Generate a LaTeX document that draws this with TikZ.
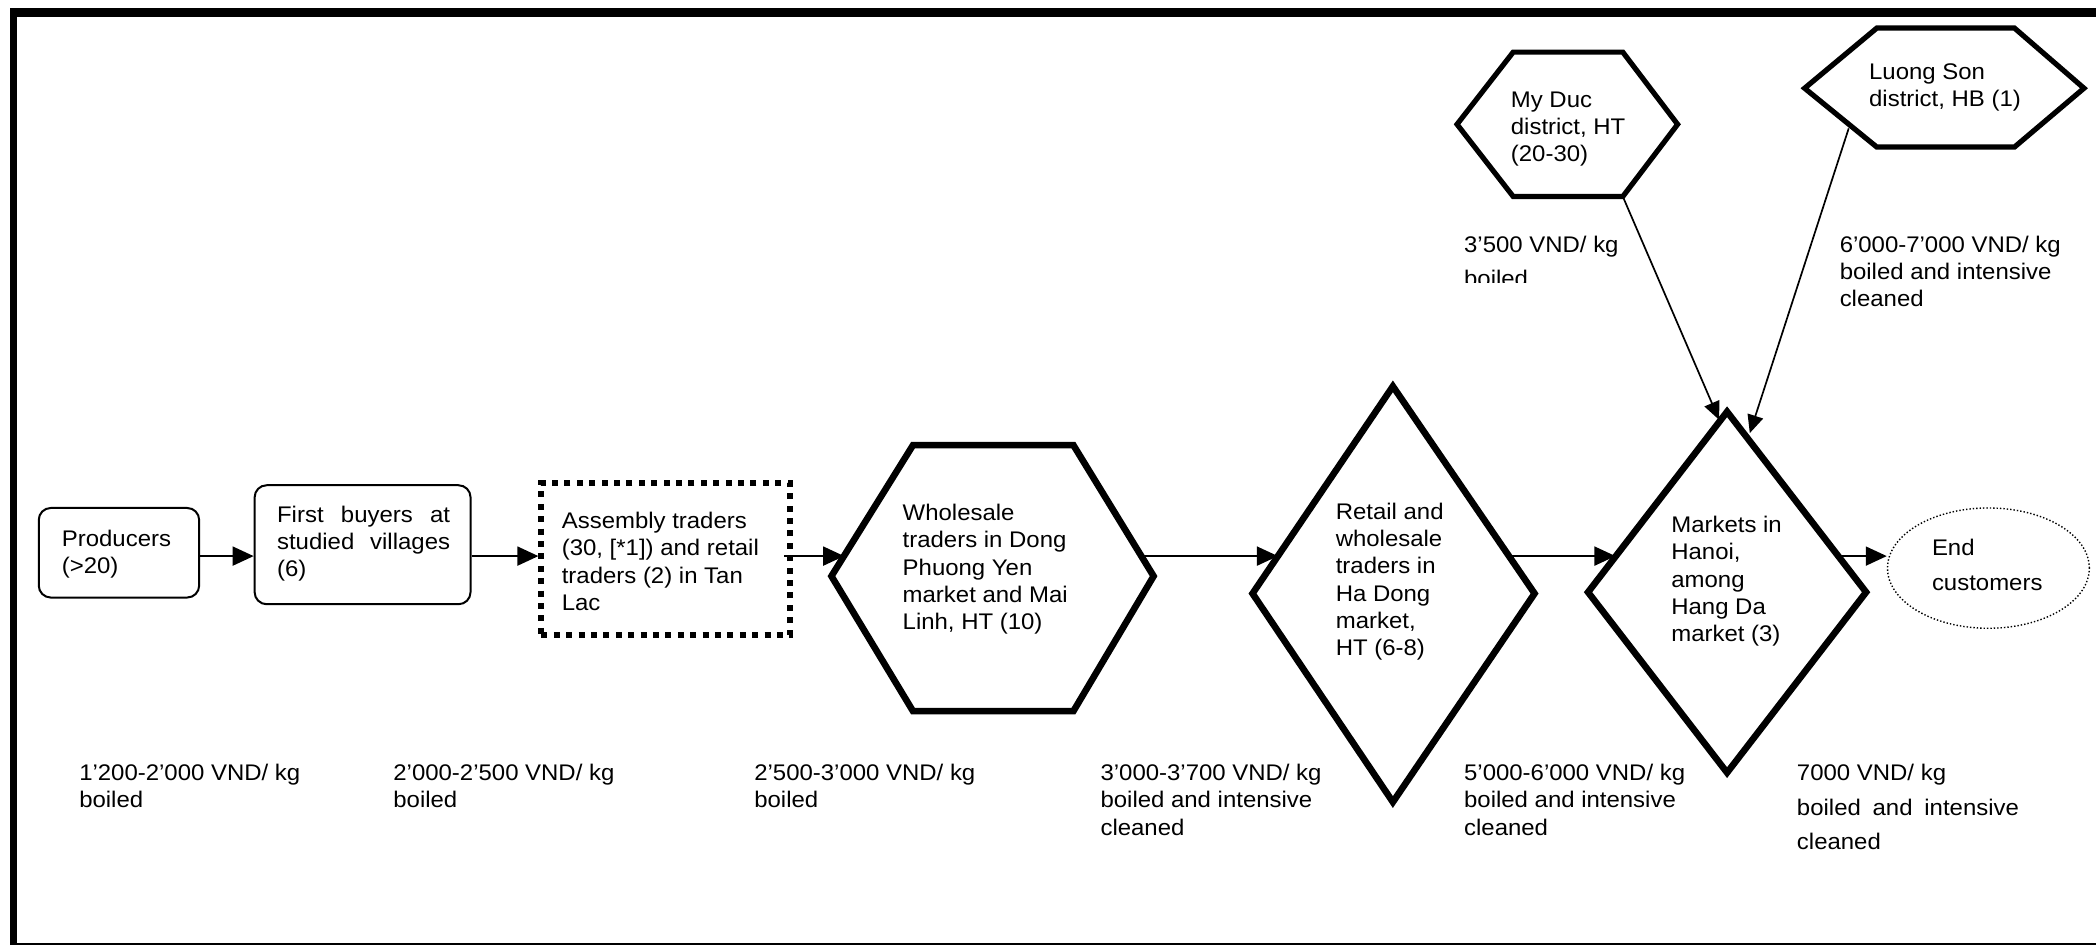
\documentclass[tikz,border=0pt]{standalone}
\usepackage{fontspec}
\setmainfont{Liberation Sans}[FakeStretch=1.06]
\usetikzlibrary{arrows.meta,shapes.geometric}
\newcommand\unitpx{0.6684pt}
\newcommand\ts{\rule{0pt}{8pt}}
\tikzset{
 lbl/.style={anchor=north west, inner sep=0pt, align=left, font=\fontsize{11.3}{13.6}\selectfont},
 lblwide/.style={anchor=north west, inner sep=0pt, align=left, font=\fontsize{11.3}{17.3}\selectfont},
 arr/.style={line width=0.95pt, -{Triangle[length=10.5pt,width=9.5pt]}},
 darr/.style={line width=0.85pt, -{Triangle[length=9pt,width=8pt]}},
 bigshape/.style={line width=3.3pt, line join=miter},
 smallhex/.style={line width=2.6pt, line join=miter},
 rbox/.style={draw, line width=1pt, rounded corners=6pt, inner sep=0pt},
 dotbox/.style={draw, line width=3pt, dash pattern=on 3pt off 3.2pt, inner sep=0pt},
 endell/.style={draw, ellipse, line width=0.7pt, dash pattern=on 0.7pt off 1pt, inner sep=0pt},
}
\begin{document}
\begin{tikzpicture}[x=0.6684pt,y=-0.6684pt]
\useasboundingbox (0,0) rectangle (1568,708);
% frame
\draw[line width=3.5pt] (10,6) -- (10,707);
\draw[line width=4.5pt] (7.5,9.3) -- (1568,9.3);
\draw[line width=1pt] (10,706) -- (1568,706);
\coordinate (row) at (0,416);

% boxes
\node[rbox, minimum width={120*\unitpx}, minimum height={67*\unitpx}] (prod) at (89,413.5) {};
\node[lbl] (prodT) at (46,396) {\ts Producers\\(>20)};
\node[rbox, minimum width={161.5*\unitpx}, minimum height={89*\unitpx}] (buy) at (271.25,407.5) {};
\node[lbl] (buyT) at (207,378) {\ts\makebox[86.5pt][s]{First buyers at}\\\makebox[86.5pt][s]{studied villages}\\(6)};
\node[dotbox, minimum width={186*\unitpx}, minimum height={113.5*\unitpx}] (asm) at (498,418.25) {};
\node[lbl] (asmT) at (420,383) {\ts Assembly traders\\(30, [*1]) and retail\\traders (2) in Tan\\Lac};

% wholesale hexagon
\coordinate (whL) at (622,431); \coordinate (whTL) at (683,333); \coordinate (whTR) at (803,333);
\coordinate (whR) at (863,431); \coordinate (whBR) at (803,532); \coordinate (whBL) at (683,532);
\draw[bigshape] (whL) -- (whTL) -- (whTR) -- (whR) -- (whBR) -- (whBL) -- cycle;
\node[lbl] (whT) at (675,377) {\ts Wholesale\\traders in Dong\\Phuong Yen\\market and Mai\\Linh, HT (10)};
\coordinate (whIn) at (631.5,416); \coordinate (whOut) at (853.5,416);

% retail diamond
\coordinate (rtT) at (1042,289); \coordinate (rtR) at (1148,444);
\coordinate (rtB) at (1042,600); \coordinate (rtL) at (937,444);
\draw[bigshape] (rtT) -- (rtR) -- (rtB) -- (rtL) -- cycle;
\node[lbl] (rtText) at (999,376) {\ts Retail and\\wholesale\\traders in\\Ha Dong\\market,\\HT (6-8)};
\coordinate (rtIn) at (956,416); \coordinate (rtOut) at (1128.5,416);

% markets diamond
\coordinate (mkT) at (1292,308); \coordinate (mkR) at (1396,443);
\coordinate (mkB) at (1292,578); \coordinate (mkL) at (1188,443);
\draw[bigshape] (mkT) -- (mkR) -- (mkB) -- (mkL) -- cycle;
\node[lbl] (mkText) at (1250,386) {\ts Markets in\\Hanoi,\\among\\Hang Da\\market (3)};
\coordinate (mkIn) at (1208.5,416); \coordinate (mkOut) at (1375,416);
\coordinate (mkTipA) at (1286,314); \coordinate (mkTipB) at (1309,324);

% end customers
\node[endell, minimum width={151*\unitpx}, minimum height={90*\unitpx}] (endc) at (1487.5,425) {};
\node[lblwide] (endT) at (1445,403) {\ts End\\customers};

% My Duc hexagon
\coordinate (mdL) at (1090,93); \coordinate (mdTL) at (1132,39); \coordinate (mdTR) at (1214,39);
\coordinate (mdR) at (1255,93); \coordinate (mdBR) at (1214,147); \coordinate (mdBL) at (1132,147);
\draw[smallhex] (mdL) -- (mdTL) -- (mdTR) -- (mdR) -- (mdBR) -- (mdBL) -- cycle;
\node[lbl] (mdT) at (1130,68) {\ts My Duc\\district, HT\\(20-30)};

% Luong Son hexagon
\coordinate (lsL) at (1350,66); \coordinate (lsTL) at (1404,21); \coordinate (lsTR) at (1507,21);
\coordinate (lsR) at (1559,66); \coordinate (lsBR) at (1507,110); \coordinate (lsBL) at (1404,110);
\draw[smallhex] (lsL) -- (lsTL) -- (lsTR) -- (lsR) -- (lsBR) -- (lsBL) -- cycle;
\node[lbl] (lsT) at (1398,47) {\ts Luong Son\\district, HB (1)};
\coordinate (lsOut) at (1383,96);

% connectors
\draw[arr] (prod.east |- row) -- (buy.west |- row);
\draw[arr] (buy.east |- row) -- (asm.west |- row);
\draw[arr, shorten <=-4.5pt] (asm.east |- row) -- (whIn);
\draw[arr] (whOut) -- (rtIn);
\draw[arr] (rtOut) -- (mkIn);
\draw[arr] (mkOut) -- (mkOut -| endc.west);
\draw[darr] (mdBR) -- (mkTipA);
\draw[darr] (lsOut) -- (mkTipB);

% price labels
\node[lbl] (p1) at (59,571.5) {\ts 1’200-2’000 VND/ kg\\boiled};
\node[lbl] (p2) at (294,571.5) {\ts 2’000-2’500 VND/ kg\\boiled};
\node[lbl] (p3) at (564,571.5) {\ts 2’500-3’000 VND/ kg\\boiled};
\node[lbl] (p4) at (823,571.5) {\ts 3’000-3’700 VND/ kg\\boiled and intensive\\cleaned};
\node[lbl] (p5) at (1095,571.5) {\ts 5’000-6’000 VND/ kg\\boiled and intensive\\cleaned};
\node[lblwide] (p6) at (1344,571.5) {\ts 7000 VND/ kg\\\makebox[111pt][s]{boiled and intensive}\\cleaned};
\begin{scope}
\clip (1085,160) rectangle (1265,211.5);
\node[lblwide] (p7) at (1095,176) {\ts 3’500 VND/ kg\\boiled};
\end{scope}
\node[lbl] (p8) at (1376,176) {\ts 6’000-7’000 VND/ kg\\boiled and intensive\\cleaned};
\end{tikzpicture}
\end{document}
